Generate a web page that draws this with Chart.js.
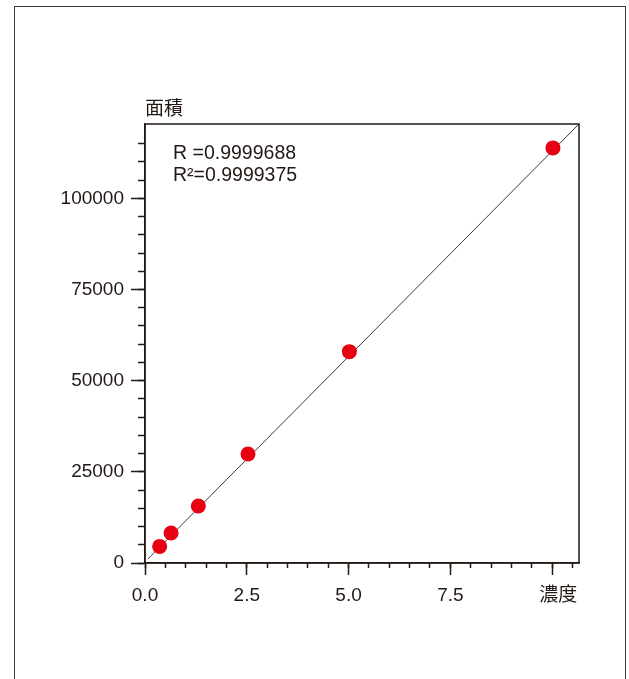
<!DOCTYPE html>
<html>
<head>
<meta charset="utf-8">
<script src="https://cdn.jsdelivr.net/npm/chart.js@4"></script>
<style>
    body { margin: 0; background: #fff; }
    #wrap { position: relative; width: 629px; height: 679px; }
    #frame { position: absolute; left: 14px; top: 6px; width: 612px; height: 690px;
             border: 1.5px solid #3e3a39; border-bottom: none; box-sizing: border-box; }
    canvas { position: absolute; left: 0; top: 0; }
</style>
</head>
<body>
<div id="wrap">
    <div id="frame"></div>
    <canvas id="calib-chart" width="629" height="679"></canvas>
</div>
<script>
const concentration = [0.36, 0.64, 1.31, 2.53, 5.02, 10.02];
const area = [4550, 8230, 15630, 29900, 57960, 113840];
const fitX = [0.07, 10.66];
const fitY = [1100, 120400];
const xTicks = [0, 2.5, 5, 7.5, 10];
const yTicks = [0, 25000, 50000, 75000, 100000];
const statLines = ["R =0.9999688", "R\u00b2=0.9999375"];
const xTitle = "濃度";
const yTitle = "面積";

const ink = '#231815';
const font = "'Liberation Sans', 'Noto Sans CJK JP', sans-serif";
const xMax = 10.66, yMax = 120400;

// minor ticks every step, from 0 up to last
function minorTicks(step, last) {
    const out = [];
    for (let v = 0; v <= last + 1e-9; v += step) out.push({value: v});
    return out;
}

const frameBox = {
    id: 'frameBox',
    afterDraw(chart) {
        const a = chart.chartArea;
        const ctx = chart.ctx;
        ctx.save();
        ctx.strokeStyle = ink;
        ctx.lineWidth = 1.5;
        ctx.strokeRect(a.left, a.top, a.right - a.left, a.bottom - a.top);
        ctx.fillStyle = ink;
        ctx.textAlign = 'left';
        ctx.textBaseline = 'alphabetic';
        ctx.font = "19px " + font;
        ctx.fillText(yTitle, a.left, a.top - 9);
        ctx.fillText(xTitle, chart.scales.x.getPixelForValue(10) - 13, a.bottom + 38);
        ctx.font = "19.5px " + font;
        statLines.forEach((t, i) => ctx.fillText(t, a.left + 28, a.top + 35 + i * 21.5));
        ctx.restore();
    }
};

new Chart(document.getElementById('calib-chart'), {
    type: 'scatter',
    data: {
        datasets: [
            {
                type: 'line',
                data: fitX.map((x, i) => ({x: x, y: fitY[i]})),
                borderColor: '#3e3a39',
                borderWidth: 1,
                pointRadius: 0,
                fill: false,
                order: 2,
            },
            {
                data: concentration.map((x, i) => ({x: x, y: area[i]})),
                backgroundColor: '#e60012',
                borderWidth: 0,
                pointRadius: 7.5,
                order: 1,
            },
        ]
    },
    options: {
        responsive: false,
        animation: false,
        layout: { padding: { left: 0, top: 124, right: 50, bottom: 0 } },
        plugins: { legend: { display: false }, tooltip: { enabled: false } },
        scales: {
            x: {
                type: 'linear', position: 'bottom', weight: 1,
                min: 0, max: xMax,
                afterBuildTicks: s => { s.ticks = xTicks.map(v => ({value: v})); },
                afterFit: s => { s.height = 116; },
                border: { color: ink, width: 1.5 },
                grid: { drawOnChartArea: false, tickLength: 12, tickColor: ink, tickWidth: 1.5 },
                ticks: {
                    autoSkip: false, maxRotation: 0,
                    padding: 9, color: ink, font: { family: font, size: 19 },
                    callback: v => v === 10 ? '' : v.toFixed(1),
                },
            },
            xMinor: {
                type: 'linear', position: 'bottom', weight: 0,
                min: 0, max: xMax,
                afterBuildTicks: s => { s.ticks = minorTicks(0.5, 10.5); },
                afterFit: s => { s.height = 0; },
                border: { display: false },
                grid: { drawOnChartArea: false, tickLength: 5, tickColor: ink, tickWidth: 1.5 },
                ticks: { autoSkip: false, display: false },
            },
            y: {
                type: 'linear', position: 'left', weight: 1,
                min: 0, max: yMax,
                afterBuildTicks: s => { s.ticks = yTicks.map(v => ({value: v})); },
                afterFit: s => { s.width = 145; },
                border: { color: ink, width: 1.5 },
                grid: { drawOnChartArea: false, tickLength: 14, tickColor: ink, tickWidth: 1.5 },
                ticks: {
                    autoSkip: false,
                    padding: 7, color: ink, font: { family: font, size: 19 },
                    callback: v => String(v),
                },
            },
            yMinor: {
                type: 'linear', position: 'left', weight: 0,
                min: 0, max: yMax,
                afterBuildTicks: s => { s.ticks = minorTicks(5000, 115000); },
                afterFit: s => { s.width = 0; },
                border: { display: false },
                grid: { drawOnChartArea: false, tickLength: 7, tickColor: ink, tickWidth: 1.5 },
                ticks: { autoSkip: false, display: false },
            },
        },
    },
    plugins: [frameBox],
});
</script>
</body>
</html>
